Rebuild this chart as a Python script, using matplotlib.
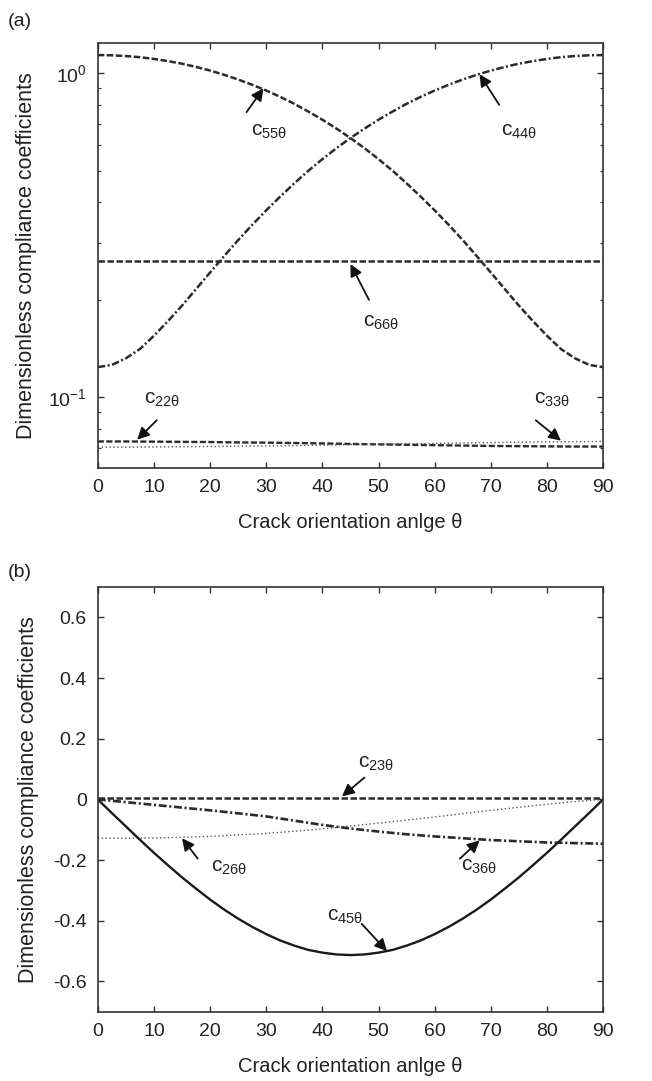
import matplotlib
matplotlib.use("Agg")
import matplotlib.pyplot as plt
from matplotlib.ticker import FixedLocator, FixedFormatter, LogLocator, NullFormatter

plt.rcParams['font.family'] = ['Liberation Sans', 'DejaVu Sans']
plt.rcParams['mathtext.fontset'] = 'custom'
plt.rcParams['mathtext.rm'] = 'Liberation Sans'
plt.rcParams['mathtext.it'] = 'Liberation Sans'
plt.rcParams['axes.unicode_minus'] = False

# ---------------- data: panel (a) ----------------
theta_f = [0, 2.5, 5, 7.5, 10, 12.5, 15, 17.5, 20, 22.5, 25, 27.5, 30, 32.5, 35, 37.5, 40, 42.5,
           45, 47.5, 50, 52.5, 55, 57.5, 60, 62.5, 65, 67.5, 70, 72.5, 75, 77.5, 80, 82.5, 85, 87.5, 90]
theta = [0, 5, 10, 15, 20, 25, 30, 35, 40, 45, 50, 55, 60, 65, 70, 75, 80, 85, 90]

c55 = [1.140, 1.138, 1.132, 1.123, 1.109, 1.092, 1.072, 1.048, 1.021, 0.991, 0.958, 0.923,
       0.886, 0.847, 0.806, 0.763, 0.720, 0.676, 0.632, 0.588, 0.544, 0.501, 0.458, 0.417,
       0.378, 0.341, 0.306, 0.273, 0.243, 0.216, 0.192, 0.172, 0.155, 0.141, 0.132, 0.126, 0.124]
c44 = [0.124, 0.126, 0.132, 0.141, 0.155, 0.172, 0.192, 0.216, 0.243, 0.273, 0.306, 0.341,
       0.378, 0.417, 0.458, 0.501, 0.544, 0.588, 0.632, 0.676, 0.720, 0.763, 0.806, 0.847,
       0.886, 0.923, 0.958, 0.991, 1.021, 1.048, 1.072, 1.092, 1.109, 1.123, 1.132, 1.138, 1.140]
c66 = [0.263] * 19
c22 = [0.0731, 0.0731, 0.0730, 0.0729, 0.0728, 0.0726, 0.0725, 0.0723, 0.0721, 0.0718,
       0.0716, 0.0714, 0.0712, 0.0710, 0.0708, 0.0707, 0.0706, 0.0705, 0.0705]
c33 = [0.0702, 0.0702, 0.0703, 0.0704, 0.0705, 0.0707, 0.0708, 0.0710, 0.0712, 0.0715,
       0.0717, 0.0719, 0.0721, 0.0723, 0.0725, 0.0727, 0.0729, 0.0730, 0.0731]

# ---------------- data: panel (b) ----------------
c23 = [0.003] * 19
c26 = [-0.128, -0.128, -0.127, -0.125, -0.122, -0.117, -0.112, -0.105, -0.097, -0.088,
       -0.078, -0.068, -0.058, -0.047, -0.036, -0.026, -0.016, -0.007, 0.0]
c36 = [0.0, -0.009, -0.018, -0.027, -0.036, -0.046, -0.056, -0.070, -0.084, -0.096,
       -0.106, -0.115, -0.122, -0.128, -0.134, -0.138, -0.142, -0.144, -0.146]
c45 = [0.0, -0.045, -0.089, -0.133, -0.176, -0.217, -0.257, -0.294, -0.330, -0.363, -0.393,
       -0.420, -0.444, -0.465, -0.482, -0.496, -0.505, -0.511, -0.513, -0.511, -0.505, -0.496,
       -0.482, -0.465, -0.444, -0.420, -0.393, -0.363, -0.330, -0.294, -0.257, -0.217, -0.176,
       -0.133, -0.089, -0.045, 0.0]

xticks = [0, 10, 20, 30, 40, 50, 60, 70, 80, 90]
yticks_b = [-0.6, -0.4, -0.2, 0, 0.2, 0.4, 0.6]
yticklabels_b = ['-0.6', '-0.4', '-0.2', '0', '0.2', '0.4', '0.6']

FS = 14
AFS = 15
DARK = '#2b2b2b'
GRAY = '#555555'

fig = plt.figure(figsize=(6.52, 10.81), dpi=100)
axa = fig.add_axes([0.150, 0.567, 0.775, 0.393])
axb = fig.add_axes([0.150, 0.064, 0.775, 0.393])


def style(ax, ylpad):
    for s in ax.spines.values():
        s.set_color('#333333')
        s.set_linewidth(1.2)
    ax.tick_params(which='both', direction='in', top=True, right=True,
                   labelsize=FS, colors='#333333', labelcolor='#222222')
    ax.tick_params(which='major', length=4, width=1.0, pad=8)
    ax.tick_params(which='minor', length=2.5, width=0.8)
    ax.set_xlim(0, 90)
    ax.set_xticks(xticks)
    ax.set_xlabel('Crack orientation anlge θ', fontsize=14.5, color='#222222', labelpad=12)
    ax.set_ylabel('Dimensionless compliance coefficients', fontsize=15.5, color='#222222',
                  labelpad=ylpad)


# ---- panel (a) ----
axa.plot(theta_f, c55, color=DARK, lw=1.8, dashes=(2.6, 1.0))
axa.plot(theta_f, c44, color=DARK, lw=1.8, dashes=(3.0, 1.0, 0.8, 1.0))
axa.plot(theta, c66, color=DARK, lw=1.8, dashes=(2.6, 1.0))
axa.plot(theta, c22, color=DARK, lw=1.7, dashes=(2.6, 1.0))
axa.plot(theta, c33, color=GRAY, lw=1.0, dashes=(1.0, 1.8))
axa.set_yscale('log')
axa.set_ylim(0.0605, 1.24)
axa.yaxis.set_major_locator(FixedLocator([0.1, 1.0]))
axa.yaxis.set_major_formatter(FixedFormatter([r'$\mathregular{10^{-1}}$', r'$\mathregular{10^{0}}$']))
axa.yaxis.set_minor_locator(LogLocator(base=10, subs=[2, 3, 4, 5, 6, 7, 8, 9]))
axa.yaxis.set_minor_formatter(NullFormatter())
style(axa, 8)

arrow = dict(arrowstyle='-|>', color='#111111', lw=1.3, mutation_scale=18, shrinkA=0, shrinkB=0)


def ann(ax, text, head, tail, label):
    ax.annotate('', xy=head, xytext=tail, arrowprops=arrow, annotation_clip=False)
    ax.text(label[0], label[1], text, fontsize=AFS, ha='center', va='center', color='#222222')


ann(axa, r'$\mathregular{c_{55θ}}$', (29.5, 0.90), (26.5, 0.76), (30.5, 0.66))
ann(axa, r'$\mathregular{c_{44θ}}$', (68.0, 0.995), (71.5, 0.80), (75.0, 0.66))
ann(axa, r'$\mathregular{c_{66θ}}$', (45.0, 0.258), (48.3, 0.20), (50.5, 0.17))
ann(axa, r'$\mathregular{c_{22θ}}$', (7.0, 0.0740), (10.5, 0.0850), (11.5, 0.0985))
ann(axa, r'$\mathregular{c_{33θ}}$', (82.5, 0.0735), (78.0, 0.0850), (81.0, 0.0985))

# ---- panel (b) ----
axb.plot(theta, c23, color=DARK, lw=1.8, dashes=(2.6, 1.0))
axb.plot(theta, c26, color=GRAY, lw=1.0, dashes=(1.0, 1.8))
axb.plot(theta, c36, color=DARK, lw=1.9, dashes=(3.0, 1.0, 0.8, 1.0))
axb.plot(theta_f, c45, color='#1a1a1a', lw=1.7)
axb.set_ylim(-0.7, 0.7)
axb.yaxis.set_major_locator(FixedLocator(yticks_b))
axb.yaxis.set_major_formatter(FixedFormatter(yticklabels_b))
style(axb, 10)

ann(axb, r'$\mathregular{c_{23θ}}$', (43.5, 0.010), (47.5, 0.072), (49.5, 0.118))
ann(axb, r'$\mathregular{c_{26θ}}$', (15.0, -0.128), (17.8, -0.195), (23.3, -0.225))
ann(axb, r'$\mathregular{c_{36θ}}$', (68.0, -0.135), (64.5, -0.195), (68.0, -0.220))
ann(axb, r'$\mathregular{c_{45θ}}$', (51.5, -0.500), (47.0, -0.410), (44.0, -0.385))

fig.text(0.012, 0.988, '(a)', fontsize=FS, ha='left', va='top', color='#222222')
fig.text(0.012, 0.478, '(b)', fontsize=FS, ha='left', va='top', color='#222222')

fig.savefig('out.png', dpi=100, facecolor='white')
